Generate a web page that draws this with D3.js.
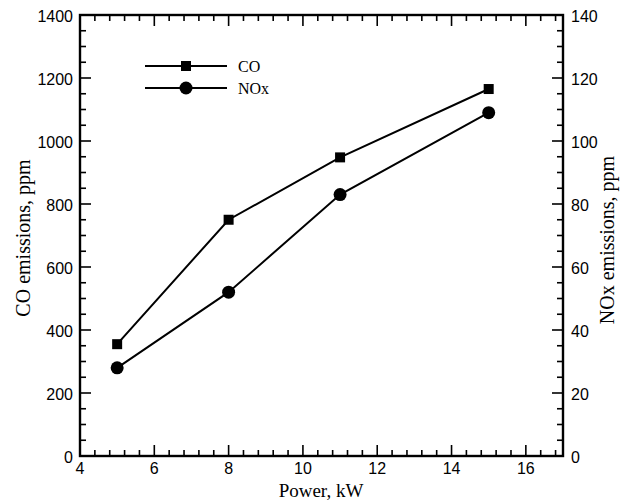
<!DOCTYPE html>
<html>
<head>
<meta charset="utf-8">
<script src="https://cdn.jsdelivr.net/npm/d3@7"></script>
<style>
  body { margin: 0; background: #fff; }
  svg { display: block; }
</style>
</head>
<body>
<svg id="chart" width="621" height="501"></svg>
<script>
// Engine power levels and measured emissions
const power = [5, 8, 11, 15];
const coPpm = [355, 750, 948, 1165];
const noxPpm = [28, 52, 83, 109];

const xTicks = [4, 6, 8, 10, 12, 14, 16];
const coTicks = [0, 200, 400, 600, 800, 1000, 1200, 1400];
const noxTicks = [0, 20, 40, 60, 80, 100, 120, 140];

const legendLabels = ["CO", "NOx"];

const margin = { left: 80, right: 58, top: 15, bottom: 45 };
const W = 621, H = 501;
const svg = d3.select("#chart");

const x = d3.scaleLinear().domain([4, 17]).range([margin.left, W - margin.right]);
const yCO = d3.scaleLinear().domain([0, 1400]).range([H - margin.bottom, margin.top]);
const yNOx = d3.scaleLinear().domain([0, 140]).range([H - margin.bottom, margin.top]);

const sansFont = "'Liberation Sans', Arial, sans-serif";
const serifFont = "'Liberation Serif', 'Times New Roman', serif";
const major = 11, minor = 6;

const x0 = x.range()[0], x1 = x.range()[1];
const y0 = yCO.range()[0], y1 = yCO.range()[1];

// minor tick positions
const xMinor = d3.range(4, 17.0001, 0.4).map(v => +v.toFixed(2)).filter(v => !xTicks.includes(v));
const coMinor = d3.range(0, 1400.1, 50).filter(v => v % 200 !== 0);
const noxMinor = d3.range(0, 140.1, 5).filter(v => v % 20 !== 0);

const tickG = svg.append("g").attr("stroke", "#000").attr("stroke-width", 1.6);

// bottom & top axis ticks (inward)
xTicks.forEach(v => {
  tickG.append("line").attr("x1", x(v)).attr("x2", x(v)).attr("y1", y0).attr("y2", y0 - major);
  tickG.append("line").attr("x1", x(v)).attr("x2", x(v)).attr("y1", y1).attr("y2", y1 + major);
});
xMinor.forEach(v => {
  tickG.append("line").attr("x1", x(v)).attr("x2", x(v)).attr("y1", y0).attr("y2", y0 - minor);
  tickG.append("line").attr("x1", x(v)).attr("x2", x(v)).attr("y1", y1).attr("y2", y1 + minor);
});
// left axis ticks
coTicks.forEach(v => {
  tickG.append("line").attr("x1", x0).attr("x2", x0 + major).attr("y1", yCO(v)).attr("y2", yCO(v));
});
coMinor.forEach(v => {
  tickG.append("line").attr("x1", x0).attr("x2", x0 + minor).attr("y1", yCO(v)).attr("y2", yCO(v));
});
// right axis ticks
noxTicks.forEach(v => {
  tickG.append("line").attr("x1", x1).attr("x2", x1 - major).attr("y1", yNOx(v)).attr("y2", yNOx(v));
});
noxMinor.forEach(v => {
  tickG.append("line").attr("x1", x1).attr("x2", x1 - minor).attr("y1", yNOx(v)).attr("y2", yNOx(v));
});

// frame
svg.append("rect")
  .attr("x", x0).attr("y", y1).attr("width", x1 - x0).attr("height", y0 - y1)
  .attr("fill", "none").attr("stroke", "#000").attr("stroke-width", 2.4);

// tick labels
const lbl = svg.append("g").attr("font-family", sansFont).attr("font-size", 16).attr("fill", "#000");
xTicks.forEach(v => {
  lbl.append("text").attr("x", x(v)).attr("y", y0 + 18).attr("text-anchor", "middle").text(v);
});
coTicks.forEach(v => {
  lbl.append("text").attr("x", x0 - 7).attr("y", yCO(v) + 7).attr("text-anchor", "end").text(v);
});
noxTicks.forEach(v => {
  lbl.append("text").attr("x", x1 + 8).attr("y", yNOx(v) + 7).attr("text-anchor", "start").text(v);
});

// axis titles
svg.append("text").attr("x", 321).attr("y", 497)
  .attr("text-anchor", "middle").attr("font-family", serifFont).attr("font-size", 19)
  .text("Power, kW");
svg.append("text").attr("transform", `translate(30,238) rotate(-90)`)
  .attr("text-anchor", "middle").attr("font-family", serifFont).attr("font-size", 20)
  .text("CO emissions, ppm");
svg.append("text").attr("transform", `translate(614,240) rotate(-90)`)
  .attr("text-anchor", "middle").attr("font-family", serifFont).attr("font-size", 20)
  .text("NOx emissions, ppm");

// series
const coPts = power.map((p, i) => [x(p), yCO(coPpm[i])]);
const noxPts = power.map((p, i) => [x(p), yNOx(noxPpm[i])]);
const line = d3.line();

svg.append("path").attr("d", line(coPts)).attr("fill", "none").attr("stroke", "#000").attr("stroke-width", 2);
svg.append("path").attr("d", line(noxPts)).attr("fill", "none").attr("stroke", "#000").attr("stroke-width", 2);

const sq = 10, rad = 6.5;
svg.selectAll(".co-mark").data(coPts).join("rect")
  .attr("x", d => d[0] - sq / 2).attr("y", d => d[1] - sq / 2)
  .attr("width", sq).attr("height", sq).attr("fill", "#000");
svg.selectAll(".nox-mark").data(noxPts).join("circle")
  .attr("cx", d => d[0]).attr("cy", d => d[1]).attr("r", rad).attr("fill", "#000");

// legend
const lg = svg.append("g");
const legY = [66, 88];
legendLabels.forEach((name, i) => {
  lg.append("line").attr("x1", 145).attr("x2", 227).attr("y1", legY[i]).attr("y2", legY[i])
    .attr("stroke", "#000").attr("stroke-width", 2);
  if (i === 0) {
    lg.append("rect").attr("x", 186 - sq / 2).attr("y", legY[i] - sq / 2).attr("width", sq).attr("height", sq).attr("fill", "#000");
  } else {
    lg.append("circle").attr("cx", 186).attr("cy", legY[i]).attr("r", rad).attr("fill", "#000");
  }
  lg.append("text").attr("x", 238).attr("y", legY[i] + 6)
    .attr("font-family", serifFont).attr("font-size", 16).text(name);
});
</script>
</body>
</html>
